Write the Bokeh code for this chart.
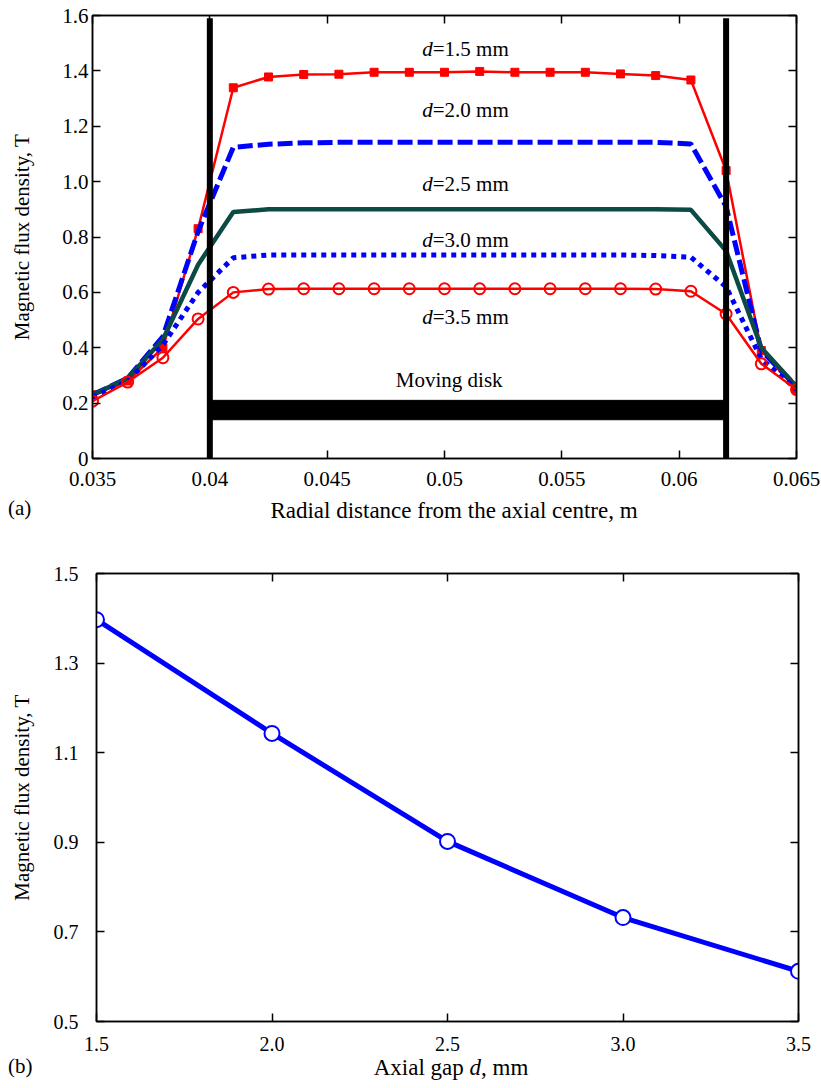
from bokeh.plotting import figure
from bokeh.layouts import column, row
from bokeh.models import Range1d, FixedTicker, CustomJSTickFormatter, LinearAxis, Label, Div
from bokeh.embed import file_html
from bokeh.resources import INLINE

FONT = "Liberation Serif"

# ---------------- data (a) ----------------
radial = [0.035, 0.0365, 0.038, 0.0395, 0.041, 0.0425, 0.044, 0.0455, 0.047, 0.0485, 0.05,
          0.0515, 0.053, 0.0545, 0.056, 0.0575, 0.059, 0.0605, 0.062, 0.0635, 0.065]
b_d15 = [0.23, 0.28, 0.40, 0.83, 1.339, 1.378, 1.387, 1.388, 1.395, 1.395, 1.395,
         1.398, 1.395, 1.395, 1.395, 1.389, 1.383, 1.367, 1.04, 0.39, 0.25]
b_d20 = [0.23, 0.29, 0.44, 0.82, 1.124, 1.135, 1.140, 1.142, 1.142, 1.142, 1.142,
         1.142, 1.142, 1.142, 1.142, 1.142, 1.142, 1.136, 0.91, 0.39, 0.26]
b_d25 = [0.23, 0.29, 0.43, 0.70, 0.890, 0.900, 0.900, 0.900, 0.900, 0.900, 0.900,
         0.900, 0.900, 0.900, 0.900, 0.900, 0.900, 0.898, 0.75, 0.40, 0.26]
b_d30 = [0.22, 0.28, 0.41, 0.60, 0.725, 0.735, 0.735, 0.735, 0.735, 0.735, 0.735,
         0.735, 0.735, 0.735, 0.735, 0.735, 0.733, 0.727, 0.62, 0.36, 0.25]
b_d35 = [0.207, 0.276, 0.364, 0.504, 0.600, 0.612, 0.613, 0.613, 0.613, 0.613, 0.613,
         0.613, 0.613, 0.613, 0.613, 0.613, 0.612, 0.604, 0.522, 0.342, 0.249]

disk_edges = [0.040, 0.062]
wall_top = 1.59
disk_bottom = 0.14
disk_top = 0.21

gap_labels = ["1.5", "2.0", "2.5", "3.0", "3.5"]
gap_label_y = [1.48, 1.26, 0.993, 0.788, 0.511]
gap_label_x = 0.0495
disk_label = "Moving disk"
disk_label_pos = (0.0502, 0.282)

x_ticks_a = [0.035, 0.04, 0.045, 0.05, 0.055, 0.06, 0.065]
y_ticks_a = [0, 0.2, 0.4, 0.6, 0.8, 1.0, 1.2, 1.4, 1.6]

# ---------------- data (b) ----------------
gap = [1.5, 2.0, 2.5, 3.0, 3.5]
b_gap = [1.397, 1.143, 0.902, 0.732, 0.612]
x_ticks_b = [1.5, 2.0, 2.5, 3.0, 3.5]
y_ticks_b = [0.5, 0.7, 0.9, 1.1, 1.3, 1.5]

YLABEL = "Magnetic flux density, T"
XLABEL_A = "Radial distance from the axial centre, m"
XLABEL_B = "Axial gap <i>d</i>, mm"

RED = "#ff0000"
BLUE = "#0000ff"
GREEN = "#0b4a45"
W = 821


def style_axis(ax, ticks, code, standoff, show=True, size="20px"):
    ax.ticker = FixedTicker(ticks=ticks, minor_ticks=[])
    ax.formatter = CustomJSTickFormatter(code=code if show else 'return "";')
    ax.major_tick_in = 8
    ax.major_tick_out = 0
    ax.minor_tick_line_color = None
    ax.axis_line_width = 1.5
    ax.axis_line_color = "black"
    ax.major_tick_line_width = 1.5
    ax.major_tick_line_color = "black"
    ax.major_label_text_font = FONT
    ax.major_label_text_color = "black"
    ax.major_label_text_font_size = size if show else "0px"
    ax.major_label_standoff = standoff if show else 0


def y_title(ax, standoff):
    ax.axis_label = YLABEL
    ax.axis_label_text_font = FONT
    ax.axis_label_text_font_size = "21px"
    ax.axis_label_text_font_style = "normal"
    ax.axis_label_text_color = "black"
    ax.axis_label_standoff = standoff


def make_fig(h, xr, yr, bl, br, bt, bb):
    p = figure(width=W, height=h, x_range=Range1d(*xr), y_range=Range1d(*yr),
               output_backend="svg", toolbar_location=None,
               min_border_left=bl, min_border_right=br, min_border_top=bt, min_border_bottom=bb)
    p.xgrid.grid_line_color = None
    p.ygrid.grid_line_color = None
    p.outline_line_color = "black"
    p.outline_line_width = 1.5
    p.background_fill_color = "white"
    p.border_fill_color = "white"
    return p


def add_label(p, x, y, text, size="21px", align="left", style="normal"):
    p.add_layout(Label(x=x, y=y, text=text, text_font=FONT, text_font_size=size,
                       text_font_style=style, text_align=align, text_baseline="alphabetic",
                       text_color="black"))


def strip_div(h, left_txt, left_size, left_base, center_html, center_x, center_size, center_base):
    def top(base, size):
        return base - 0.8375 * size
    span = ("position:absolute;white-space:nowrap;font-family:'Liberation Serif';color:black;"
            "margin:0;padding:0;")
    html = (
        f'<div style="position:relative;width:{W}px;height:{h}px;margin:0;padding:0;">'
        f'<span style="{span}left:8px;top:{top(left_base, left_size):.1f}px;'
        f'font-size:{left_size}px;line-height:{left_size}px;">{left_txt}</span>'
        f'<span style="{span}left:{center_x - 300}px;width:600px;text-align:center;'
        f'top:{top(center_base, center_size):.1f}px;font-size:{center_size}px;'
        f'line-height:{center_size}px;">{center_html}</span></div>'
    )
    return Div(text=html, width=W, height=h, margin=(0, 0, 0, 0))


# =============== figure (a): page rows 0..500, frame x 92..796, y 15..458 ===============
pa = make_fig(500, (0.035, 0.065), (0.0, 1.6), 92, 25, 15, 42)
fmt_xa = "return Number(tick.toFixed(3)).toString();"
fmt_ya = "return Math.abs(tick) < 1e-9 ? '0' : tick.toFixed(1);"
style_axis(pa.xaxis[0], x_ticks_a, fmt_xa, 13, size="21px")
style_axis(pa.yaxis[0], y_ticks_a, fmt_ya, 4, size="21px")
y_title(pa.yaxis[0], 25)
top_a = LinearAxis()
right_a = LinearAxis()
style_axis(top_a, x_ticks_a, fmt_xa, 0, show=False)
style_axis(right_a, y_ticks_a, fmt_ya, 0, show=False)
pa.add_layout(top_a, "above")
pa.add_layout(right_a, "right")

pa.line(radial, b_d15, line_color=RED, line_width=2.5)
pa.scatter(radial, b_d15, marker="square", size=8, fill_color=RED, line_color=RED)
pa.line(radial, b_d20, line_color=BLUE, line_width=5, line_dash="15 5")
pa.line(radial, b_d25, line_color=GREEN, line_width=4.5)
pa.line(radial, b_d30, line_color=BLUE, line_width=5, line_dash="5 5")
pa.line(radial, b_d35, line_color=RED, line_width=2.5)
pa.scatter(radial, b_d35, marker="circle", size=11, fill_color=None, line_color=RED, line_width=2)

pa.segment(x0=disk_edges, y0=[0, 0], x1=disk_edges, y1=[wall_top, wall_top],
           line_color="black", line_width=6)
pa.quad(left=[disk_edges[0]], right=[disk_edges[1]], bottom=[disk_bottom], top=[disk_top],
        fill_color="black", line_color="black")

for lab, ly in zip(gap_labels, gap_label_y):
    add_label(pa, gap_label_x, ly, "d", align="right", style="italic")
    add_label(pa, gap_label_x, ly, "=" + lab + " mm", align="left")
add_label(pa, disk_label_pos[0], disk_label_pos[1], disk_label, align="center")

# strip under (a): page rows 500..528, baselines at page y 518
sa = strip_div(28, "(a)", 21, 16, XLABEL_A, 454, 23, 18)

# =============== figure (b): page rows 528..1060, frame x 96..798, y 573..1021 ===============
pb = make_fig(532, (1.5, 3.5), (0.5, 1.5), 96, 23, 45, 39)
fmt_b = "return tick.toFixed(1);"
style_axis(pb.xaxis[0], x_ticks_b, fmt_b, 15, size="20px")
style_axis(pb.yaxis[0], y_ticks_b, fmt_b, 18, size="20px")
y_title(pb.yaxis[0], 17)
top_b = LinearAxis()
right_b = LinearAxis()
style_axis(top_b, x_ticks_b, fmt_b, 0, show=False)
style_axis(right_b, y_ticks_b, fmt_b, 0, show=False)
pb.add_layout(top_b, "above")
pb.add_layout(right_b, "right")

pb.line(gap, b_gap, line_color=BLUE, line_width=5)
pb.scatter(gap, b_gap, marker="circle", size=15, fill_color="white", line_color=BLUE, line_width=2)

# strip under (b): page rows 1060..1086, baselines at page y ~1075
sb = strip_div(26, "(b)", 21, 14, XLABEL_B, 451, 23, 15)

layout = column(row(pa), sa, row(pb), sb, spacing=0)
open("out.html", "w").write(file_html(layout, INLINE))
